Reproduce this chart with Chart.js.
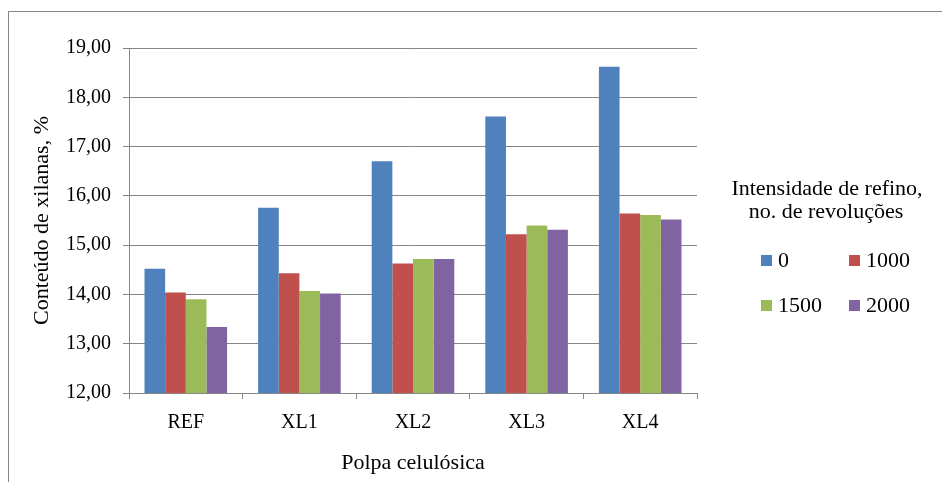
<!DOCTYPE html>
<html>
<head>
<meta charset="utf-8">
<script src="https://cdn.jsdelivr.net/npm/chart.js@4/dist/chart.umd.min.js"></script>
<style>
  html, body { margin: 0; padding: 0; background: #fff; overflow: hidden; }
  #wrap { position: relative; width: 942px; height: 482px; }
  #frame { position: absolute; left: 8px; top: 11px; width: 1000px; height: 600px; border: 1px solid #868686; box-sizing: border-box; }
  canvas { position: absolute; left: 0; top: 0; }
</style>
</head>
<body>
<div id="wrap">
  <div id="frame"></div>
  <canvas id="c" width="942" height="482"></canvas>
</div>
<script>
// ---- data ----
const categories = ['REF', 'XL1', 'XL2', 'XL3', 'XL4'];
const seriesNames = ['0', '1000', '1500', '2000'];
const rev0    = [14.52, 15.76, 16.70, 17.61, 18.62];
const rev1000 = [14.04, 14.43, 14.63, 15.22, 15.64];
const rev1500 = [13.90, 14.07, 14.72, 15.40, 15.61];
const rev2000 = [13.34, 14.02, 14.72, 15.31, 15.52];
const seriesColors = ['#4F81BD', '#C0504D', '#9BBB59', '#8064A2'];
const yMin = 12, yMax = 19, yStep = 1;
const xTitle = 'Polpa celulósica';
const yTitle = 'Conteúdo de xilanas, %';
const legendTitle = ['Intensidade de refino,', 'no. de revoluções'];

const seriesValues = [rev0, rev1000, rev1500, rev2000];
const FONT = '"Liberation Serif", "Times New Roman", serif';
const GRID = '#868686';

const legendPlugin = {
  id: 'gridLegend',
  afterDraw(chart) {
    const ctx = chart.ctx;
    ctx.save();
    ctx.fillStyle = '#000';
    ctx.font = '22px ' + FONT;
    ctx.textAlign = 'center';
    ctx.textBaseline = 'alphabetic';
    ctx.fillText(legendTitle[0], 827, 195);
    ctx.fillText(legendTitle[1], 826, 218);
    const ds = chart.data.datasets;
    const cols = [761, 849];
    const rows = [267, 312];
    ds.forEach((d, i) => {
      const cx = cols[i % 2];
      const by = rows[Math.floor(i / 2)];
      ctx.fillStyle = d.backgroundColor;
      ctx.fillRect(cx, by - 12, 11, 11);
      ctx.fillStyle = '#000';
      ctx.textAlign = 'left';
      ctx.fillText(d.label, cx + 17, by);
    });
    ctx.restore();
  }
};

new Chart(document.getElementById('c'), {
  type: 'bar',
  data: {
    labels: categories,
    datasets: seriesNames.map((n, i) => ({
      label: n,
      data: seriesValues[i],
      backgroundColor: seriesColors[i],
      borderWidth: 0,
      categoryPercentage: 0.727,
      barPercentage: 1.0
    }))
  },
  options: {
    responsive: false,
    animation: false,
    devicePixelRatio: 1,
    layout: { padding: { left: 0, top: 48, right: 245, bottom: 0 } },
    plugins: {
      legend: { display: false },
      tooltip: { enabled: false },
      title: { display: false }
    },
    scales: {
      x: {
        afterFit(s) { s.height = 89; },
        grid: { display: true, drawOnChartArea: false, drawTicks: true, tickLength: 6, color: GRID, offset: true },
        border: { display: true, color: GRID, width: 1 },
        ticks: { color: '#000', font: { family: FONT, size: 20 }, padding: 12, maxRotation: 0 },
        title: { display: true, text: xTitle, color: '#000', font: { family: FONT, size: 22 }, padding: { top: 0, bottom: 6 } }
      },
      y: {
        min: yMin, max: yMax,
        afterFit(s) { s.width = 129; },
        grid: { display: true, drawOnChartArea: true, drawTicks: true, tickLength: 6, color: GRID },
        border: { display: true, color: GRID, width: 1 },
        ticks: {
          stepSize: yStep, color: '#000', font: { family: FONT, size: 20 }, padding: 12,
          callback: v => Number(v).toFixed(2).replace('.', ',')
        },
        title: { display: true, text: yTitle, color: '#000', font: { family: FONT, size: 22 }, padding: { top: 29, bottom: 0 } }
      }
    }
  },
  plugins: [legendPlugin]
});
</script>
</body>
</html>
